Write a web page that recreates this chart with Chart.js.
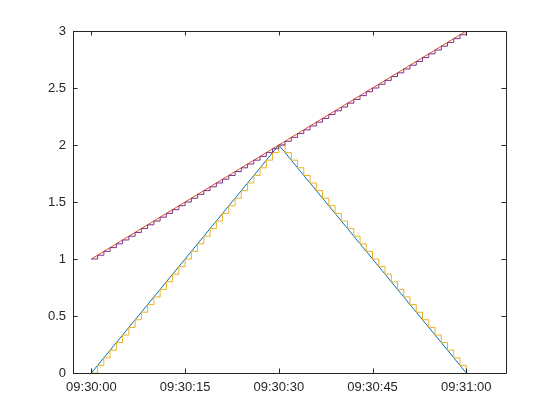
<!DOCTYPE html>
<html>
<head>
<meta charset="utf-8">
<script src="https://cdn.jsdelivr.net/npm/chart.js@4/dist/chart.umd.min.js"></script>
<style>
  html, body { margin:0; padding:0; background:#fff; }
</style>
</head>
<body>
<canvas id="chart" width="560" height="420"></canvas>
<script>
// seconds after 09:30:00
const secs = [0,1,2,3,4,5,6,7,8,9,10,11,12,13,14,15,16,17,18,19,20,
  21,22,23,24,25,26,27,28,29,30,31,32,33,34,35,36,37,38,39,40,
  41,42,43,44,45,46,47,48,49,50,51,52,53,54,55,56,57,58,59,60];
const tri = [0,0.067,0.133,0.2,0.267,0.333,0.4,0.467,0.533,0.6,0.667,0.733,0.8,0.867,0.933,
  1,1.067,1.133,1.2,1.267,1.333,1.4,1.467,1.533,1.6,1.667,1.733,1.8,1.867,1.933,2,
  1.933,1.867,1.8,1.733,1.667,1.6,1.533,1.467,1.4,1.333,1.267,1.2,1.133,1.067,
  1,0.933,0.867,0.8,0.733,0.667,0.6,0.533,0.467,0.4,0.333,0.267,0.2,0.133,0.067,0];
const ramp = [1,1.033,1.067,1.1,1.133,1.167,1.2,1.233,1.267,1.3,
  1.333,1.367,1.4,1.433,1.467,1.5,1.533,1.567,1.6,1.633,
  1.667,1.7,1.733,1.767,1.8,1.833,1.867,1.9,1.933,1.967,
  2,2.033,2.067,2.1,2.133,2.167,2.2,2.233,2.267,2.3,
  2.333,2.367,2.4,2.433,2.467,2.5,2.533,2.567,2.6,2.633,
  2.667,2.7,2.733,2.767,2.8,2.833,2.867,2.9,2.933,2.967,3];
const xTicks = [0,15,30,45,60];
const xTickLabels = ['09:30:00','09:30:15','09:30:30','09:30:45','09:31:00'];
const yTicks = [0,0.5,1,1.5,2,2.5,3];

const axisColor = '#262626';
const pts = ys => secs.map((s, i) => ({x: s, y: ys[i]}));

// box and inward ticks, mirrored on top and right like the original
const boxPlugin = {
  id: 'box',
  afterDatasetsDraw(chart){
    const {ctx, chartArea: a, scales} = chart;
    const tl = 4.5;
    ctx.save();
    ctx.strokeStyle = axisColor;
    ctx.lineWidth = 1;
    ctx.beginPath();
    ctx.rect(Math.round(a.left) + 0.5, Math.round(a.top) + 0.5,
             Math.round(a.right - a.left), Math.round(a.bottom - a.top));
    scales.x.ticks.forEach(t => {
      const px = Math.round(scales.x.getPixelForValue(t.value)) + 0.5;
      ctx.moveTo(px, a.bottom); ctx.lineTo(px, a.bottom - tl);
      ctx.moveTo(px, a.top); ctx.lineTo(px, a.top + tl);
    });
    scales.y.ticks.forEach(t => {
      const py = Math.round(scales.y.getPixelForValue(t.value)) + 0.5;
      ctx.moveTo(a.left, py); ctx.lineTo(a.left + tl, py);
      ctx.moveTo(a.right, py); ctx.lineTo(a.right - tl, py);
    });
    ctx.stroke();
    ctx.restore();
  }
};

new Chart(document.getElementById('chart'), {
  type: 'line',
  data: {
    datasets: [
      { data: pts(ramp), borderColor:'#7E2F8E', borderWidth:1, stepped:'before', order:1 },
      { data: pts(tri), borderColor:'#EDB120', borderWidth:1, stepped:'before', order:2 },
      { data: pts(ramp), borderColor:'#D95319', borderWidth:1, order:3 },
      { data: pts(tri), borderColor:'#0072BD', borderWidth:1, order:4 }
    ]
  },
  options: {
    responsive:false,
    animation:false,
    devicePixelRatio:1,
    layout:{ padding:{ top:31, right:54, left:0, bottom:0 } },
    elements:{ point:{ radius:0 }, line:{ tension:0, fill:false } },
    plugins:{ legend:{display:false}, tooltip:{enabled:false} },
    scales:{
      x:{
        type:'linear', min:-2.94, max:66.36,
        grid:{ display:false, drawTicks:false }, border:{ display:false },
        afterBuildTicks: s => { s.ticks = xTicks.map(v => ({value:v})); },
        afterFit: s => { s.height = 47; },
        ticks:{ color:axisColor, padding:7, maxRotation:0, autoSkip:false,
          font:{ family:'"Liberation Sans", Arial, sans-serif', size:13 },
          callback: (v, i) => xTickLabels[i] }
      },
      y:{
        min:0, max:3,
        grid:{ display:false, drawTicks:false }, border:{ display:false },
        afterBuildTicks: s => { s.ticks = yTicks.map(v => ({value:v})); },
        afterFit: s => { s.width = 73; },
        ticks:{ color:axisColor, padding:7,
          font:{ family:'"Liberation Sans", Arial, sans-serif', size:13 },
          callback: v => String(v) }
      }
    }
  },
  plugins:[boxPlugin]
});
</script>
</body>
</html>
